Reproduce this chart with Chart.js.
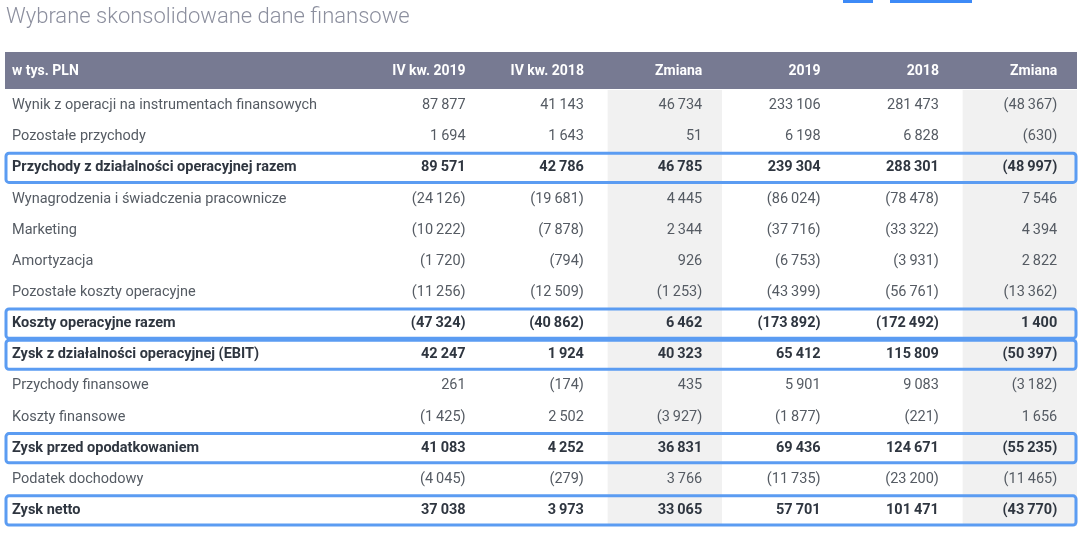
<!DOCTYPE html>
<html><head><meta charset="utf-8">
<script src="https://cdn.jsdelivr.net/npm/chart.js@4"></script>
<style>html,body{margin:0;padding:0;background:#fff}#w{width:1083px;height:536px}</style>
</head><body><div id="w"><canvas id="c"></canvas></div>
<script>
const title = "Wybrane skonsolidowane dane finansowe";
const headerLabel = "w tys. PLN";
const columns = ["IV kw. 2019","IV kw. 2018","Zmiana","2019","2018","Zmiana"];
const rows = ["Wynik z operacji na instrumentach finansowych","Pozostałe przychody","Przychody z działalności operacyjnej razem","Wynagrodzenia i świadczenia pracownicze","Marketing","Amortyzacja","Pozostałe koszty operacyjne","Koszty operacyjne razem","Zysk z działalności operacyjnej (EBIT)","Przychody finansowe","Koszty finansowe","Zysk przed opodatkowaniem","Podatek dochodowy","Zysk netto"];
const boldRows = [false,false,true,false,false,false,false,true,true,false,false,true,false,true];
const q42019 = [87877,1694,89571,-24126,-10222,-1720,-11256,-47324,42247,261,-1425,41083,-4045,37038];
const q42018 = [41143,1643,42786,-19681,-7878,-794,-12509,-40862,1924,-174,2502,4252,-279,3973];
const qChange = [46734,51,46785,4445,2344,926,-1253,6462,40323,435,-3927,36831,3766,33065];
const y2019 = [233106,6198,239304,-86024,-37716,-6753,-43399,-173892,65412,5901,-1877,69436,-11735,57701];
const y2018 = [281473,6828,288301,-78478,-33322,-3931,-56761,-172492,115809,9083,-221,124671,-23200,101471];
const yChange = [-48367,-630,-48997,7546,4394,2822,-13362,1400,-50397,-3182,1656,-55235,-11465,-43770];
const series = [q42019,q42018,qChange,y2019,y2018,yChange];
const shadedCols = [2,5];

function fmt(v){const s=Math.abs(v).toString().replace(/\B(?=(\d{3})+(?!\d))/g,"\u2009");return v<0?"("+s+")":s;}

const tablePlugin = {
  id:'table',
  beforeDatasetsDraw(chart){
    const ctx=chart.ctx, xs=chart.scales.x, ys=chart.scales.y, ca=chart.chartArea;
    const colW=xs.getPixelForValue(1)-xs.getPixelForValue(0);
    const rowH=ys.getPixelForValue(1)-ys.getPixelForValue(0);
    const off=colW*0.35;
    ctx.save();
    ctx.fillStyle="#8c8f9e";ctx.font="300 22px Roboto";ctx.textBaseline="middle";ctx.textAlign="left";
    ctx.fillText(title,6,17);
    ctx.fillStyle="#3d8af7";ctx.fillRect(843,0,30,3);ctx.fillRect(890,0,82,3);
    const hTop=52,hBot=ca.top-1;
    ctx.fillStyle="#777a92";ctx.fillRect(5,hTop,ca.right-5+2,hBot-hTop);
    ctx.fillStyle="#fff";ctx.font="bold 14px Roboto";
    ctx.textAlign="left";ctx.fillText(headerLabel,12,(hTop+hBot)/2+1);
    ctx.textAlign="right";
    columns.forEach((c,i)=>ctx.fillText(c,xs.getPixelForValue(i)+off,(hTop+hBot)/2+1));
    ctx.fillStyle="#f1f1f1";
    shadedCols.forEach(i=>{const x=xs.getPixelForValue(i);ctx.fillRect(x-colW/2+6,ca.top,colW-4,ca.bottom-ca.top);});
    rows.forEach((r,ri)=>{
      const y=ys.getPixelForValue(ri);
      const b=boldRows[ri];
      ctx.fillStyle=b?"#2f3640":"#555b63";
      ctx.font=(b?"bold ":"")+"14.5px Roboto";
      ctx.textAlign="left";ctx.fillText(r,12,y);
      ctx.textAlign="right";
      series.forEach((s,ci)=>ctx.fillText(fmt(s[ri]),xs.getPixelForValue(ci)+off,y));
      if(b){ctx.strokeStyle="#5b9cf2";ctx.lineWidth=3;
        ctx.beginPath();ctx.roundRect(6,y-rowH/2+1,ca.right-6+1,rowH-2,3);ctx.stroke();}
    });
    ctx.restore();
  }
};

new Chart(document.getElementById('c'),{
  type:'bar',
  data:{labels:columns,datasets:[{data:columns.map(()=>null),backgroundColor:'transparent'}]},
  options:{responsive:true,maintainAspectRatio:false,animation:false,
    layout:{padding:{left:365,top:90,right:8,bottom:10}},
    plugins:{legend:{display:false},tooltip:{enabled:false}},
    scales:{
      x:{type:'category',labels:columns,display:false,offset:true},
      y:{type:'category',labels:rows,display:false,offset:true}
    }},
  plugins:[tablePlugin]
});
</script></body></html>
